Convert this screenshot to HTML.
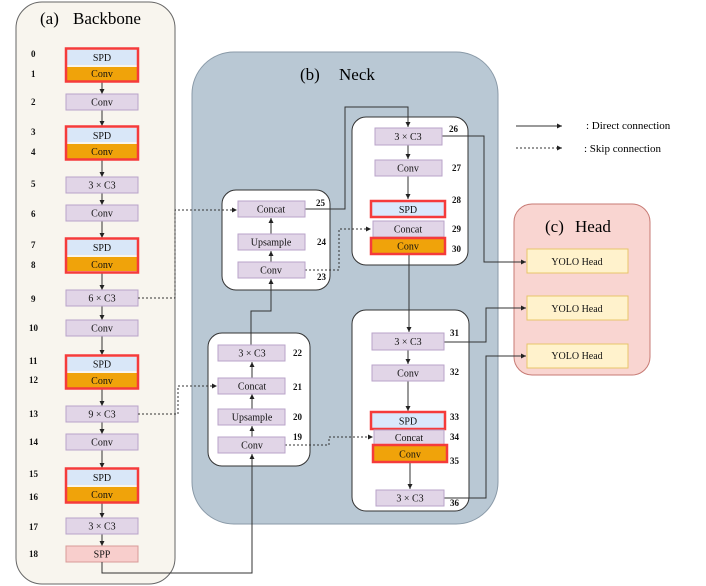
<!DOCTYPE html>
<html><head><meta charset="utf-8"><style>
body{margin:0;background:#fff}
svg{display:block;font-family:"Liberation Serif",serif}
.b{fill:#e1d5e7;stroke:#b9a3c9;stroke-width:1}
.s{fill:#d9e7f8;stroke:none}
.o{fill:#f0a30a;stroke:none}
.r{fill:none;stroke:#f53b3b;stroke-width:2.5}
.t{font-size:10px;text-anchor:middle;fill:#111}
.n{font-size:9px;fill:#111;font-weight:bold}
.l{fill:none;stroke:#333;stroke-width:1}
.d{fill:none;stroke:#333;stroke-width:1;stroke-dasharray:2,2}
</style></head><body>
<svg width="706" height="586" viewBox="0 0 706 586" xmlns="http://www.w3.org/2000/svg">
<defs><marker id="a" markerWidth="6" markerHeight="6" refX="5" refY="3" orient="auto" markerUnits="userSpaceOnUse"><path d="M0,0.5 L5,3 L0,5.5z" fill="#222"/></marker></defs>

<!-- Backbone -->
<rect x="16" y="2" width="159" height="582" rx="26" fill="#f8f5ee" stroke="#666" stroke-width="1"/>
<text x="40" y="24" font-size="17">(a)</text><text x="73" y="24" font-size="17">Backbone</text>

<!-- backbone arrows -->
<g class="l" marker-end="url(#a)">
<line x1="102" y1="82" x2="102" y2="94"/><line x1="102" y1="110" x2="102" y2="126"/>
<line x1="102" y1="160" x2="102" y2="177"/><line x1="102" y1="193" x2="102" y2="205"/>
<line x1="102" y1="221" x2="102" y2="238"/><line x1="102" y1="273" x2="102" y2="290"/>
<line x1="102" y1="306" x2="102" y2="320"/><line x1="102" y1="336" x2="102" y2="355"/>
<line x1="102" y1="389" x2="102" y2="406"/><line x1="102" y1="422" x2="102" y2="434"/>
<line x1="102" y1="450" x2="102" y2="468"/><line x1="102" y1="503" x2="102" y2="518"/>
<line x1="102" y1="534" x2="102" y2="546"/>
</g>

<g>
<rect class="s" x="67" y="50" width="70" height="15"/><rect class="o" x="67" y="67" width="70" height="14"/><rect class="r" x="66" y="48.5" width="72" height="33"/>
<text class="t" x="102" y="61">SPD</text><text class="t" x="102" y="77">Conv</text>
<rect class="b" x="66" y="94" width="72" height="16"/><text class="t" x="102" y="105.5">Conv</text>
<rect class="s" x="67" y="128" width="70" height="14"/><rect class="o" x="67" y="144" width="70" height="15"/><rect class="r" x="66" y="126.5" width="72" height="33"/>
<text class="t" x="102" y="139">SPD</text><text class="t" x="102" y="155">Conv</text>
<rect class="b" x="66" y="177" width="72" height="16"/><text class="t" x="102" y="188.5">3 × C3</text>
<rect class="b" x="66" y="205" width="72" height="16"/><text class="t" x="102" y="216.5">Conv</text>
<rect class="s" x="67" y="240" width="70" height="15"/><rect class="o" x="67" y="257" width="70" height="14"/><rect class="r" x="66" y="238.5" width="72" height="34"/>
<text class="t" x="102" y="251">SPD</text><text class="t" x="102" y="268">Conv</text>
<rect class="b" x="66" y="290" width="72" height="16"/><text class="t" x="102" y="301.5">6 × C3</text>
<rect class="b" x="66" y="320" width="72" height="16"/><text class="t" x="102" y="331.5">Conv</text>
<rect class="s" x="67" y="357" width="70" height="14"/><rect class="o" x="67" y="373" width="70" height="15"/><rect class="r" x="66" y="355.5" width="72" height="33"/>
<text class="t" x="102" y="367.5">SPD</text><text class="t" x="102" y="384">Conv</text>
<rect class="b" x="66" y="406" width="72" height="16"/><text class="t" x="102" y="417.5">9 × C3</text>
<rect class="b" x="66" y="434" width="72" height="16"/><text class="t" x="102" y="445.5">Conv</text>
<rect class="s" x="67" y="470" width="70" height="15"/><rect class="o" x="67" y="487" width="70" height="15"/><rect class="r" x="66" y="468.5" width="72" height="34"/>
<text class="t" x="102" y="481">SPD</text><text class="t" x="102" y="498">Conv</text>
<rect class="b" x="66" y="518" width="72" height="16"/><text class="t" x="102" y="529.5">3 × C3</text>
<rect x="66" y="546" width="72" height="16" fill="#f8cecc" stroke="#d99a98"/><text class="t" x="102" y="557.5">SPP</text>
</g>
<g class="n">
<text x="31" y="57">0</text><text x="31" y="77">1</text><text x="31" y="105">2</text>
<text x="31" y="135">3</text><text x="31" y="155">4</text><text x="31" y="187">5</text>
<text x="31" y="217">6</text><text x="31" y="248">7</text><text x="31" y="268">8</text>
<text x="31" y="302">9</text><text x="29" y="331">10</text><text x="29" y="364">11</text>
<text x="29" y="383">12</text><text x="29" y="417">13</text><text x="29" y="445">14</text>
<text x="29" y="477">15</text><text x="29" y="500">16</text><text x="29" y="530">17</text>
<text x="29" y="557">18</text>
</g>

<!-- Neck -->
<rect x="192" y="52" width="306" height="472" rx="42" fill="#b9c8d4" stroke="#8a9aa8" stroke-width="1"/>
<text x="300" y="80" font-size="17">(b)</text><text x="339" y="80" font-size="17">Neck</text>

<rect x="222" y="190" width="108" height="100" rx="14" fill="#fff" stroke="#333"/>
<rect x="352" y="117" width="116" height="148" rx="14" fill="#fff" stroke="#333"/>
<rect x="208" y="333" width="102" height="133" rx="14" fill="#fff" stroke="#333"/>
<rect x="352" y="310" width="117" height="201" rx="14" fill="#fff" stroke="#333"/>

<!-- legend -->
<line class="l" x1="516" y1="126" x2="562" y2="126" marker-end="url(#a)"/>
<line class="d" x1="516" y1="148" x2="562" y2="148" marker-end="url(#a)"/>
<text x="586" y="129" font-size="11">: Direct connection</text>
<text x="584" y="152" font-size="11">: Skip connection</text>

<!-- Head -->
<rect x="514" y="204" width="136" height="171" rx="18" fill="#f9d5d1" stroke="#c77a74"/>
<text x="545" y="232" font-size="17">(c)</text><text x="575" y="232" font-size="17">Head</text>
<g>
<rect x="527" y="249" width="101" height="24" fill="#fff2cc" stroke="#e8c56a"/><text class="t" x="577" y="265" font-size="9">YOLO Head</text>
<rect x="527" y="296" width="101" height="24" fill="#fff2cc" stroke="#e8c56a"/><text class="t" x="577" y="312" font-size="9">YOLO Head</text>
<rect x="527" y="344" width="101" height="24" fill="#fff2cc" stroke="#e8c56a"/><text class="t" x="577" y="359" font-size="9">YOLO Head</text>
</g>

<!-- connectors -->
<g class="d" marker-end="url(#a)">
<polyline points="138,298 175,298 175,210 237,210"/>
<polyline points="138,414 178,414 178,386 217,386"/>
<polyline points="305,270 339,270 339,229 371,229"/>
<polyline points="285,445 329,445 329,437 373,437"/>
</g>
<g class="l" marker-end="url(#a)">
<polyline points="102,562 102,573 252,573 252,454"/>
<line x1="252" y1="437" x2="252" y2="426"/>
<line x1="252" y1="409" x2="252" y2="394"/>
<line x1="252" y1="378" x2="252" y2="362"/>
<polyline points="251,345 251,311 271,311 271,279"/>
<line x1="271" y1="262" x2="271" y2="251"/>
<line x1="271" y1="234" x2="271" y2="218"/>
<polyline points="305,209 345,209 345,107 408,107 408,127"/>
<line x1="408" y1="145" x2="408" y2="159"/>
<line x1="408" y1="176" x2="408" y2="199"/>
<polyline points="442,136 484,136 484,262 526,262"/>
<polyline points="409,254 409,332"/>
<line x1="408" y1="350" x2="408" y2="364"/>
<line x1="408" y1="381" x2="408" y2="411"/>
<line x1="410" y1="462" x2="410" y2="489"/>
<polyline points="444,342 486,342 486,308 526,308"/>
<polyline points="444,498 486,498 486,356 526,356"/>
</g>

<!-- neck boxes -->
<rect class="b" x="238" y="201" width="67" height="16"/><text class="t" x="271" y="212.5">Concat</text>
<rect class="b" x="238" y="234" width="67" height="16"/><text class="t" x="271" y="245.5">Upsample</text>
<rect class="b" x="238" y="262" width="67" height="16"/><text class="t" x="271" y="273.5">Conv</text>

<rect class="b" x="375" y="128" width="67" height="17"/><text class="t" x="408" y="140">3 × C3</text>
<rect class="b" x="375" y="160" width="67" height="16"/><text class="t" x="408" y="171.5">Conv</text>
<rect class="s" x="372" y="202" width="72" height="14" style="fill:#dae8fc"/><rect class="r" x="371" y="201" width="74" height="16"/><text class="t" x="408" y="213">SPD</text>
<rect class="b" x="373" y="221" width="71" height="16"/><text class="t" x="408" y="232.5">Concat</text>
<rect class="o" x="372" y="239" width="72" height="14"/><rect class="r" x="371" y="238" width="74" height="16"/><text class="t" x="408" y="249.5">Conv</text>

<rect class="b" x="218" y="345" width="67" height="16"/><text class="t" x="252" y="356.5">3 × C3</text>
<rect class="b" x="218" y="378" width="67" height="16"/><text class="t" x="252" y="389.5">Concat</text>
<rect class="b" x="218" y="409" width="67" height="16"/><text class="t" x="252" y="420.5">Upsample</text>
<rect class="b" x="218" y="437" width="67" height="16"/><text class="t" x="252" y="448.5">Conv</text>

<rect class="b" x="372" y="333" width="72" height="17"/><text class="t" x="408" y="345">3 × C3</text>
<rect class="b" x="372" y="365" width="72" height="16"/><text class="t" x="408" y="376.5">Conv</text>
<rect class="s" x="372" y="413" width="72" height="15" style="fill:#dae8fc"/><rect class="r" x="371" y="412" width="74" height="17"/><text class="t" x="408" y="424.5">SPD</text>
<rect class="b" x="374" y="430" width="70" height="15"/><text class="t" x="409" y="441">Concat</text>
<rect class="o" x="374" y="446" width="72" height="15"/><rect class="r" x="373" y="445" width="74" height="17"/><text class="t" x="410" y="457.5">Conv</text>
<rect class="b" x="376" y="490" width="68" height="16"/><text class="t" x="410" y="501.5">3 × C3</text>

<g class="n">
<text x="316" y="206">25</text><text x="317" y="245">24</text><text x="317" y="280">23</text>
<text x="449" y="132">26</text><text x="452" y="171">27</text><text x="452" y="203">28</text>
<text x="452" y="232">29</text><text x="452" y="252">30</text>
<text x="293" y="356">22</text><text x="293" y="390">21</text><text x="293" y="420">20</text><text x="293" y="440">19</text>
<text x="450" y="336">31</text><text x="450" y="375">32</text><text x="450" y="420">33</text>
<text x="450" y="440">34</text><text x="450" y="464">35</text><text x="450" y="506">36</text>
</g>
</svg>
</body></html>
